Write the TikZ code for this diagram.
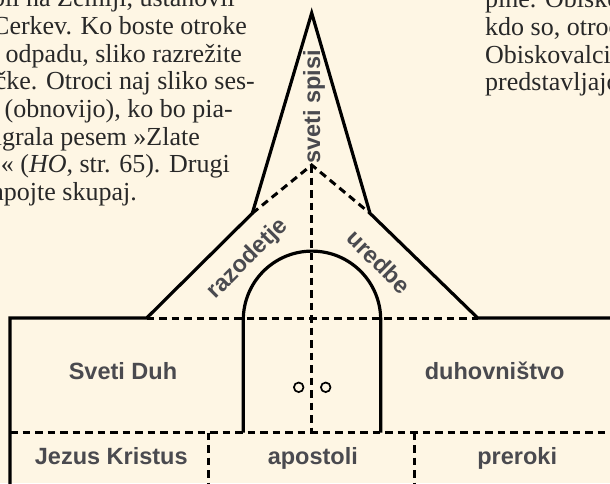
\documentclass[tikz,border=0pt]{standalone}
\usepackage{fontspec}
\setmainfont{Liberation Serif}
\newfontfamily\labfont{Liberation Sans}
\definecolor{bg}{RGB}{254,246,228}
\definecolor{labc}{RGB}{74,74,79}
\definecolor{txtc}{RGB}{40,40,40}
\begin{document}
\begin{tikzpicture}[x=1pt,y=-1pt,
  wall/.style={line width=3.2pt, line join=miter, line cap=butt},
  fold/.style={line width=3pt, dash pattern=on 7.5pt off 5pt},
  lab/.style={font=\labfont\bfseries\fontsize{23.5}{28}\selectfont, text=labc, inner sep=0pt},
  bodyr/.style={font=\fontsize{26}{30}\selectfont, text=txtc, inner sep=0pt, anchor=base east},
  bodyl/.style={font=\fontsize{26}{30}\selectfont, text=txtc, inner sep=0pt, anchor=base west}]
\useasboundingbox (0,0) rectangle (610,483);
\fill[bg] (0,0) rectangle (610,483);
\clip (0,0) rectangle (610,483);

% background text (cropped columns)
\node[bodyr] (l1) at (235,6.5) {bil na Zemlji, ustanovil};
\node[bodyr] (l2) at (247,34.3) {Cerkev. Ko boste otroke};
\node[bodyr] (l3) at (242,62) {odpadu, sliko razrežite};
\node[bodyr] (l4) at (255,89.7) {čke. Otroci naj sliko ses-};
\node[bodyr] (l5) at (233,117.4) {(obnovijo), ko bo pia-};
\node[bodyr] (l6) at (200,145) {igrala pesem »Zlate};
\node[bodyr] (l7) at (230,172.8) {« (\textit{HO}, str. 65). Drugi};
\node[bodyr] (l8) at (137,200.5) {apojte skupaj.};
\node[bodyl] (r1) at (485,7) {pine. Obiskovalci};
\node[bodyl] (r2) at (485,35) {kdo so, otroci};
\node[bodyl] (r3) at (485,63.3) {Obiskovalci naj};
\node[bodyl] (r4) at (485,90.7) {predstavljajo};

% key points
\coordinate (wb) at (10,490);
\coordinate (wt) at (10,318);
\coordinate (rl) at (146.7,318);
\coordinate (sl) at (252.3,213.3);
\coordinate (ap) at (311.7,13);
\coordinate (sr) at (370,213.3);
\coordinate (rr) at (477.7,318);
\coordinate (re) at (615,318);
\coordinate (mid) at (311.7,165);
\coordinate (fl) at (10,432.7);
\coordinate (fr) at (615,432.7);
\coordinate (fm) at (311.7,432.7);
\coordinate (v1t) at (208.3,432.7);
\coordinate (v1b) at (208.3,490);
\coordinate (v2t) at (414.3,432.7);
\coordinate (v2b) at (414.3,490);
\coordinate (dl) at (243.3,432.7);
\coordinate (dr) at (380.7,432.7);
\coordinate (dlt) at (243.3,319.8);

% folds (dashed)
\draw[fold] (rl) -- (rr);
\draw[fold] (sl) -- (mid) -- (sr);
\draw[fold] (mid) -- (fm);
\draw[fold] (fl) -- (fr);
\draw[fold] (v1t) -- (v1b);
\draw[fold] (v2t) -- (v2b);

% outline
\draw[wall] (wb) -- (wt) -- (rl) -- (sl) -- (ap) -- (sr) -- (rr) -- (re);
% door
\draw[wall] (dl) -- (dlt) arc[start angle=180, end angle=360, radius=68.7] -- (dr);
\draw[line width=1.7pt] (298.7,387.3) circle[radius=4.8];
\draw[line width=1.7pt] (325.7,387.3) circle[radius=4.8];

% labels
\node[lab, anchor=base] (sd) at (123,379.3) {Sveti Duh};
\node[lab, anchor=base] (du) at (494.7,379.3) {duhovništvo};
\node[lab, anchor=base] (jk) at (111.3,464) {Jezus Kristus};
\node[lab, anchor=base] (apo) at (312.8,464) {apostoli};
\node[lab, anchor=base] (pre) at (517.2,464) {preroki};
\node[lab, anchor=base, rotate=90] (ss) at (320,106.7) {sveti spisi};
\node[lab, rotate=45] (raz) at (247.8,259.2) {razodetje};
\node[lab, rotate=-45] (ure) at (379,261.7) {uredbe};
\end{tikzpicture}
\end{document}
